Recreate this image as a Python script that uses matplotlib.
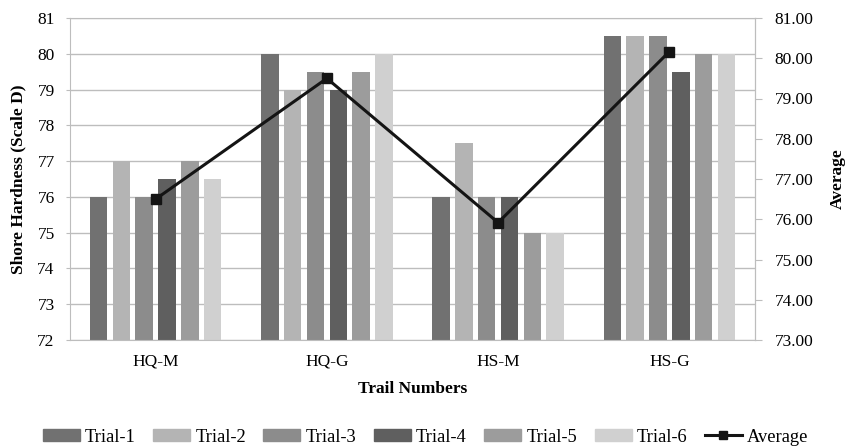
import matplotlib
matplotlib.use('Agg')
import matplotlib.pyplot as plt
import numpy as np
from matplotlib.lines import Line2D
from matplotlib.patches import Patch

plt.rcParams['font.family'] = ['Liberation Serif', 'DejaVu Serif']

samples = ['HQ-M', 'HQ-G', 'HS-M', 'HS-G']
trial1 = [76.0, 80.0, 76.0, 80.5]
trial2 = [77.0, 79.0, 77.5, 80.5]
trial3 = [76.0, 79.5, 76.0, 80.5]
trial4 = [76.5, 79.0, 76.0, 79.5]
trial5 = [77.0, 79.5, 75.0, 80.0]
trial6 = [76.5, 80.0, 75.0, 80.0]
trial_names = ['Trial-1', 'Trial-2', 'Trial-3', 'Trial-4', 'Trial-5', 'Trial-6']
trial_colors = ['#717171', '#b4b4b4', '#8c8c8c', '#5f5f5f', '#9c9c9c', '#d0d0d0']

trials = [trial1, trial2, trial3, trial4, trial5, trial6]
average = np.mean(np.array(trials), axis=0)

fig = plt.figure(figsize=(8.51, 4.47), dpi=100)
ax = fig.add_axes([70/851, 1 - 340/447, 685/851, 322/447])

x = np.arange(len(samples))
slot = 0.8 / 6
bw = slot * 0.77
for i, (vals, col) in enumerate(zip(trials, trial_colors)):
    ax.bar(x - 0.4 + slot * (i + 0.5), np.array(vals) - 72, bw, bottom=72,
           color=col, zorder=2)

ax.set_xlim(-0.5, 3.5)
ax.set_ylim(72, 81)
ax.set_yticks(range(72, 82))
ax.set_xticks(x)
ax.set_xticklabels(samples)
ax.grid(axis='y', color='#bdbdbd', linewidth=1, zorder=0)
for s in ax.spines.values():
    s.set_color('#bdbdbd')
ax.tick_params(axis='y', length=3, color='#bdbdbd', labelsize=12.5, pad=8)
ax.tick_params(axis='x', length=0, labelsize=12.5, pad=10)
ax.set_ylabel('Shore Hardness (Scale D)', fontsize=12.5, fontweight='bold', labelpad=8)
ax.set_xlabel('Trail Numbers', fontsize=12.5, fontweight='bold', labelpad=8)

ax2 = ax.twinx()
ax2.plot(x, average, color='#141414', linewidth=2.2, marker='s', markersize=7, zorder=3)
ax2.set_ylim(73, 81)
ax2.set_yticks(range(73, 82))
ax2.set_yticklabels([f'{v:.2f}' for v in range(73, 82)])
for s in ax2.spines.values():
    s.set_visible(False)
ax2.tick_params(axis='y', length=5, color='#bdbdbd', labelsize=12.5, pad=9)
ax2.spines['right'].set_visible(True)
ax2.spines['right'].set_color('#bdbdbd')
ax2.set_ylabel('Average', fontsize=12.5, fontweight='bold', labelpad=12)

handles = [Patch(color=c, label=n) for n, c in zip(trial_names, trial_colors)]
handles.append(Line2D([], [], color='#141414', linewidth=2.2, marker='s',
                      markersize=6, label='Average'))
fig.legend(handles=handles, loc='center', bbox_to_anchor=(0.5, 1 - 437/447),
           ncol=7, frameon=False, fontsize=13.3, handlelength=2.0,
           handleheight=0.55, handletextpad=0.28, columnspacing=0.95,
           borderpad=0)

fig.savefig('out.png', dpi=100)
